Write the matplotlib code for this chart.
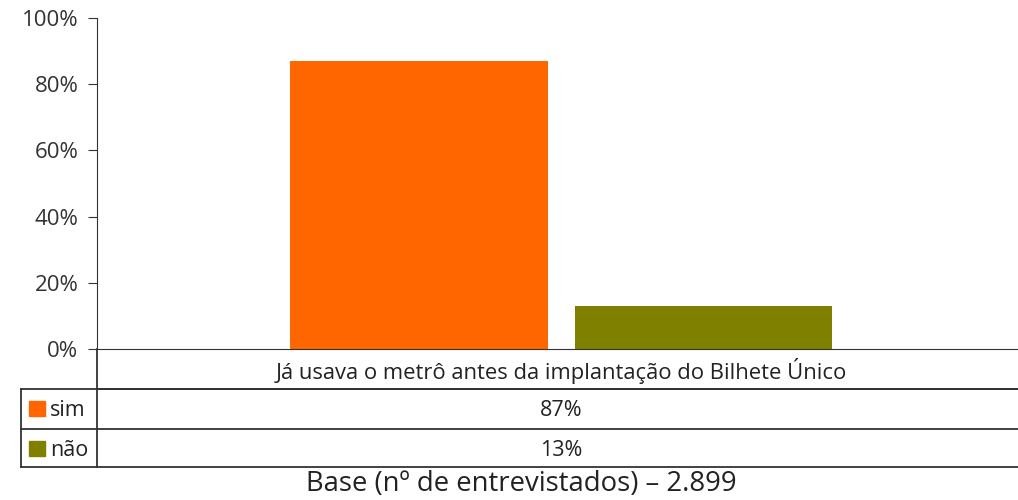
import matplotlib.pyplot as plt
from matplotlib.lines import Line2D
from matplotlib.patches import Rectangle

plt.rcParams['font.family'] = ['Open Sans', 'DejaVu Sans']

# data
category = 'Já usava o metrô antes da implantação do Bilhete Único'
series = ['sim', 'não']
values = [87, 13]
colors = ['#FF6600', '#808000']
yticks = [0, 20, 40, 60, 80, 100]
footer = 'Base (nº de entrevistados) – 2.899'

W, H = 1018, 500
fig = plt.figure(figsize=(W / 100, H / 100), dpi=100)


def fx(x):
    return x / W


def fy(y):
    return 1 - y / H


# chart area
ax = fig.add_axes([fx(97), fy(349), fx(1018) - fx(97), fy(18) - fy(349)])
pos = [0.3496, 0.6585]
ax.bar(pos, values, width=0.28, color=colors)
ax.set_xlim(0, 1)
ax.set_ylim(0, 100)
ax.set_yticks(yticks)
ax.set_yticklabels([f'{t}%' for t in yticks], fontsize=16, color='#333333')
ax.set_xticks([])
for s in ['top', 'right']:
    ax.spines[s].set_visible(False)
ax.spines['left'].set_color('#333333')
ax.spines['bottom'].set_color('#333333')
ax.tick_params(axis='y', length=6.5, color='#333333', pad=7)

# data table below the chart
lc = '#333333'
lines = [
    ((97, 97), (349, 467)),
    ((97, 1018), (389, 389)),
    ((21, 1018), (389, 389)),
    ((21, 1018), (429, 429)),
    ((21, 1018), (467, 467)),
    ((21, 21), (389, 467)),
]
for xs, ys in lines:
    fig.add_artist(Line2D([fx(x) for x in xs], [fy(y) for y in ys], color=lc, lw=1.3))

fig.text(fx(561), fy(371), category, ha='center', va='center', fontsize=15.8, color='#222222')

row_y = [410, 450]
for name, val, col, yy in zip(series, values, colors, row_y):
    fig.add_artist(Rectangle((fx(29), fy(yy + 6)), fx(16), 15 / H, color=col))
    fig.text(fx(50), fy(yy + 1), name, ha='left', va='center', fontsize=15.5, color='#222222')
    fig.text(fx(561), fy(yy), f'{val}%', ha='center', va='center', fontsize=15.5, color='#222222')

fig.text(fx(521), fy(484), footer, ha='center', va='center', fontsize=19.8, color='#222222')

fig.savefig('out.png', dpi=100)
